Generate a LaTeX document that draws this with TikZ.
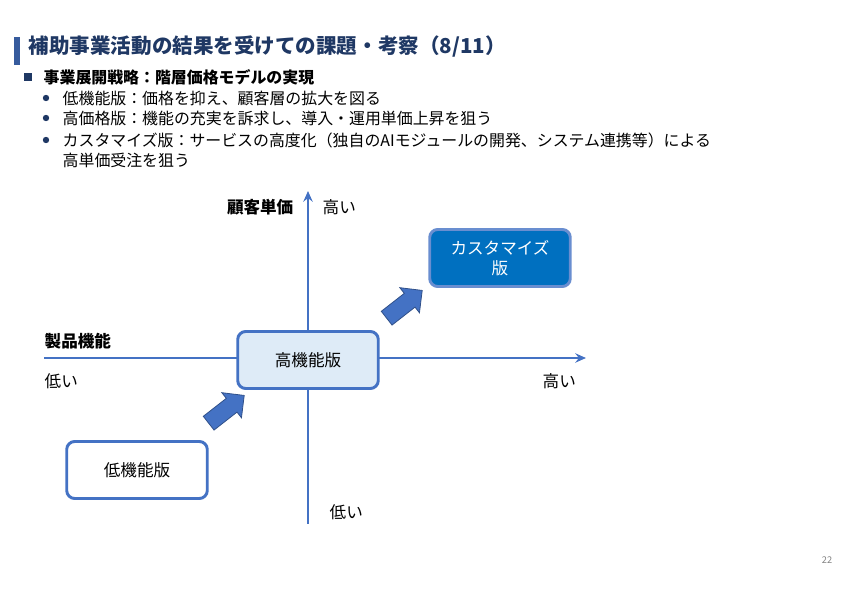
\documentclass[tikz,border=0pt]{standalone}
\usepackage{fontspec}
\setmainfont{Noto Sans CJK JP}
\usetikzlibrary{shapes.arrows,arrows.meta}
\definecolor{navy}{HTML}{1F3864}
\definecolor{axisblue}{HTML}{4472C4}
\definecolor{paleblue}{HTML}{DEEBF7}
\definecolor{deepblue}{HTML}{0070C0}
\tikzset{
  box/.style={draw=axisblue,line width=2.2pt,rounded corners=6pt,minimum width=106pt,minimum height=43pt,font=\fontsize{12.5}{15}\selectfont,align=center},
  axis/.style={axisblue,line width=2.2pt,-{Stealth[length=8pt,width=7pt]}},
  bigarrow/.style={single arrow,fill=axisblue,draw=axisblue!70!black,line width=0.6pt,minimum height=34pt,minimum width=24pt,single arrow head extend=3pt,shape border rotate=0,rotate=38},
  lbl/.style={font=\fontsize{12.5}{15}\selectfont},
  item/.style={anchor=west,font=\fontsize{12}{14}\selectfont}
}
\begin{document}
\begin{tikzpicture}[x=0.0265cm,y=-0.0265cm]
\useasboundingbox (0,0) rectangle (842,595);
% title
\fill[axisblue!80!black] (14,37) rectangle (20,65);
\node[anchor=west,text=navy,font=\bfseries\fontsize{15.5}{18}\selectfont] (title) at (24,47) {補助事業活動の結果を受けての課題・考察（8/11）};
\fill[navy] (24,73) rectangle (32,81);
\node[anchor=west,font=\bfseries\fontsize{12}{14}\selectfont] (head) at (39,77) {事業展開戦略：階層価格モデルの実現};
\foreach \y in {98,118,140} \fill[navy] (46,\y) circle (3.2);
\node[item] (b1) at (58,98) {低機能版：価格を抑え、顧客層の拡大を図る};
\node[item] (b2) at (58,118) {高価格版：機能の充実を訴求し、導入・運用単価上昇を狙う};
\node[item] (b3) at (58,140) {カスタマイズ版：サービスの高度化（独自のAIモジュールの開発、システム連携等）による};
\node[item] (b4) at (58,160) {高単価受注を狙う};
% axes
\coordinate (ybot) at (308,524);
\coordinate (ytop) at (308,191);
\coordinate (xleft) at (44,358);
\coordinate (xright) at (586,358);
\draw[axis] (ybot) -- (ytop);
\draw[axis] (xleft) -- (xright);
\node[lbl,anchor=east,font=\bfseries\fontsize{12.5}{15}\selectfont] (yname) at (298,207) {顧客単価};
\node[lbl,anchor=west] (yhigh) at (318,207) {高い};
\node[lbl,anchor=west,font=\bfseries\fontsize{12.5}{15}\selectfont] (xname) at (40,341) {製品機能};
\node[lbl,anchor=west] (xlow) at (40,381) {低い};
\node[lbl,anchor=west] (xhigh) at (538,381) {高い};
\node[lbl,anchor=west] (ylow) at (325,512) {低い};
% boxes
\node[box,fill=paleblue] (mid) at (308,360) {高機能版};
\node[box,fill=deepblue,text=white,draw=axisblue!80!white] (custom) at (500,258) {カスタマイズ\\版};
\node[box,fill=white] (low) at (137,470) {低機能版};
\node[bigarrow] (arr1) at (223,412) {};
\node[bigarrow] (arr2) at (401,307) {};
\node[text=gray,font=\fontsize{7}{8}\selectfont] (page) at (827,560) {22};
\end{tikzpicture}
\end{document}
